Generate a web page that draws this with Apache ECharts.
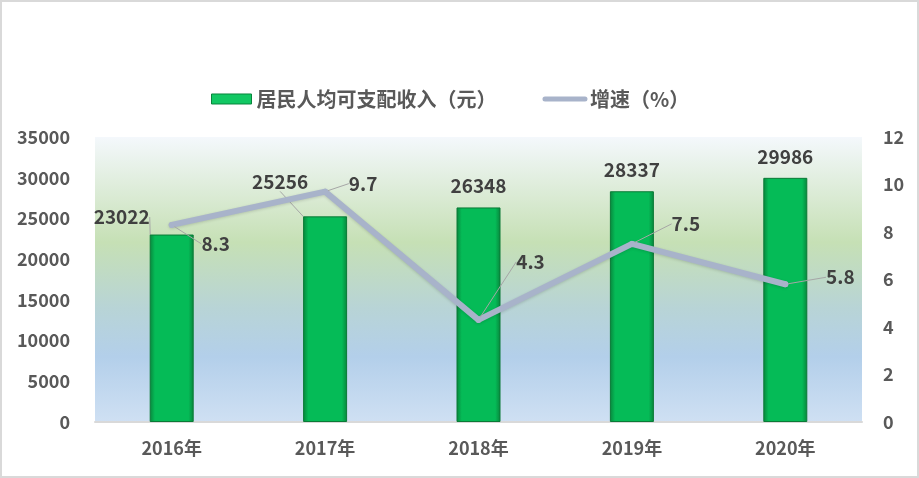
<!DOCTYPE html>
<html>
<head>
<meta charset="UTF-8">
<title>居民人均可支配收入</title>
<script src="https://cdn.jsdelivr.net/npm/echarts@6/dist/echarts.min.js"></script>
<style>
  html, body { margin: 0; padding: 0; background: #fff; }
  #main { width: 919px; height: 478px; }
</style>
</head>
<body>
<div id="main"></div>
<script type="text/javascript">
// 数据
var years = ['2016年', '2017年', '2018年', '2019年', '2020年'];
var income = [23022, 25256, 26348, 28337, 29986];   // 居民人均可支配收入（元）
var growth = [8.3, 9.7, 4.3, 7.5, 5.8];             // 增速（%）

// 标签偏移（像 Excel 那样被拖开的标签）
var incomeLabelShift = [[-50, 4], [-45, -13], [0, 0], [0, 0], [0, 0]];
var growthLabelShift = [[44, 19], [38, -8], [52, -58], [54, -20], [55, -7]];

var FONT = "'Noto Sans CJK SC', 'Noto Sans', sans-serif";
var lineColor = '#A8B3CA';

var barFill = new echarts.graphic.LinearGradient(0, 0, 1, 0, [
  { offset: 0, color: '#08853C' },
  { offset: 0.12, color: '#05BB57' },
  { offset: 0.88, color: '#05BB57' },
  { offset: 1, color: '#08853C' }
]);

var plotBg = new echarts.graphic.LinearGradient(0, 0, 0, 1, [
  { offset: 0, color: '#F4F8FC' },
  { offset: 0.37, color: '#C6E0B5' },
  { offset: 0.6, color: '#B8D4D6' },
  { offset: 0.77, color: '#B3CFEA' },
  { offset: 1, color: '#CFE0F3' }
]);

var incomeData = income.map(function (v, i) {
  var moved = incomeLabelShift[i][0] !== 0 || incomeLabelShift[i][1] !== 0;
  return { value: v, labelLine: { show: moved, lineStyle: { color: '#A6A6A6', width: 1 } } };
});

var app = echarts.init(document.getElementById('main'));

app.setOption({
  animation: false,
  textStyle: { fontFamily: FONT },
  graphic: [{
    type: 'rect',
    shape: { x: 1, y: 1, width: 917, height: 476 },
    style: { fill: 'none', stroke: '#D9D9D9', lineWidth: 2 },
    z: 100
  }],
  legend: {
    left: 206,
    top: 84,
    itemGap: 46,
    itemWidth: 40,
    itemHeight: 10,
    textStyle: { fontSize: 20, fontWeight: 'bold', color: '#595959', fontFamily: FONT },
    data: [
      { name: '居民人均可支配收入（元）', icon: 'rect', itemStyle: { color: '#12C863', borderColor: '#08853C', borderWidth: 1 } },
      { name: '增速（%）', lineStyle: { width: 5, color: lineColor }, itemStyle: { color: lineColor, opacity: 0 } }
    ]
  },
  grid: {
    left: 95,
    right: 57,
    top: 137,
    bottom: 56,
    show: true,
    backgroundColor: plotBg,
    borderWidth: 0
  },
  xAxis: [{
    type: 'category',
    data: years,
    axisTick: { show: false },
    axisLine: { lineStyle: { color: '#D9D9D9', width: 2 } },
    axisLabel: { color: '#595959', fontSize: 18, fontWeight: 'bold', margin: 17, fontFamily: FONT }
  }],
  yAxis: [
    {
      type: 'value',
      min: 0,
      max: 35000,
      interval: 5000,
      splitLine: { show: false },
      axisLine: { show: false },
      axisTick: { show: false },
      axisLabel: {
        color: '#595959', fontSize: 18, fontWeight: 'bold', margin: 25, fontFamily: FONT,
        formatter: function (v) { return String(v); }
      }
    },
    {
      type: 'value',
      min: 0,
      max: 12,
      interval: 2,
      splitLine: { show: false },
      axisLine: { show: false },
      axisTick: { show: false },
      axisLabel: { color: '#595959', fontSize: 18, fontWeight: 'bold', margin: 21, fontFamily: FONT }
    }
  ],
  series: [
    {
      name: '居民人均可支配收入（元）',
      type: 'bar',
      barWidth: 44,
      data: incomeData,
      itemStyle: { color: barFill, borderColor: '#0A7A36', borderWidth: 1 },
      label: {
        show: true,
        position: 'top',
        distance: 12,
        color: '#404040',
        fontSize: 19,
        fontWeight: 'bold',
        fontFamily: FONT
      },
      labelLayout: function (params) {
        var s = incomeLabelShift[params.dataIndex];
        return { dx: s[0], dy: s[1] };
      }
    },
    {
      name: '增速（%）',
      type: 'line',
      yAxisIndex: 1,
      data: growth,
      symbol: 'circle',
      symbolSize: 6,
      itemStyle: { color: lineColor },
      lineStyle: {
        color: lineColor,
        width: 6,
        cap: 'round',
        join: 'round',
        shadowColor: 'rgba(0,0,0,0.15)',
        shadowBlur: 3,
        shadowOffsetY: 1
      },
      z: 5,
      label: {
        show: true,
        position: 'inside',
        color: '#404040',
        fontSize: 19,
        fontWeight: 'bold',
        fontFamily: FONT
      },
      labelLine: { show: true, lineStyle: { color: '#A6A6A6', width: 1 } },
      labelLayout: function (params) {
        var s = growthLabelShift[params.dataIndex];
        return { dx: s[0], dy: s[1] };
      }
    }
  ]
});
</script>
</body>
</html>
